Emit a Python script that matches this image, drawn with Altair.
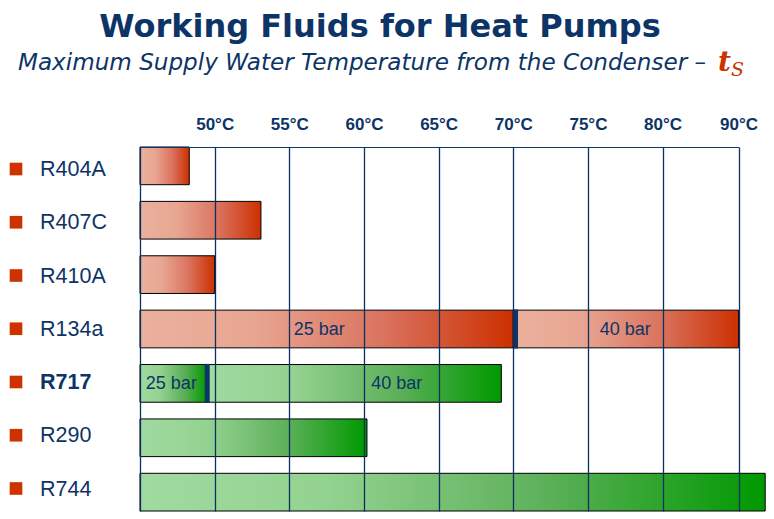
import altair as alt
import pandas as pd

# ---- data ----
fluids = ["R404A", "R407C", "R410A", "R134a", "R717", "R290", "R744"]
bold_fluid = "R717"

seg_fluid = ["R404A", "R407C", "R410A", "R134a", "R134a", "R717", "R717", "R290", "R744"]
seg_start = [45, 45, 45, 45, 70, 45, 49.5, 45, 45]
seg_end = [48.3, 53.1, 50, 70, 90, 49.5, 69.2, 60.2, 93.5]
seg_family = ["red", "red", "red", "red", "red", "green", "green", "green", "green"]

marker_fluid = ["R134a", "R717"]
marker_temp = [70.15, 49.5]

plabel_fluid = ["R134a", "R134a", "R717", "R717"]
plabel_temp = [57.0, 77.5, 47.1, 62.2]
plabel_text = ["25 bar", "40 bar", "25 bar", "40 bar"]

tick_values = [50, 55, 60, 65, 70, 75, 80, 90]

title_text = "Working Fluids for Heat Pumps"
subtitle_text = "Maximum Supply Water Temperature from the Condenser \u2013"
sym_main = "t"
sym_sub = "S"

# ---- styling ----
NAVY = "#0d3466"
RED = "#cc3300"

red_grad = alt.LinearGradient(
    gradient="linear", x1=0, y1=0, x2=1, y2=0,
    stops=[alt.GradientStop(offset=0, color="#ebb19d"),
           alt.GradientStop(offset=0.3, color="#e8a692"),
           alt.GradientStop(offset=0.65, color="#da735f"),
           alt.GradientStop(offset=1, color="#cc3000")])
green_grad = alt.LinearGradient(
    gradient="linear", x1=0, y1=0, x2=1, y2=0,
    stops=[alt.GradientStop(offset=0, color="#a0daa0"),
           alt.GradientStop(offset=0.3, color="#93d290"),
           alt.GradientStop(offset=0.65, color="#5db05a"),
           alt.GradientStop(offset=1, color="#009900")])

segs = pd.DataFrame({"fluid": seg_fluid, "start": seg_start, "end": seg_end, "family": seg_family})
markers = pd.DataFrame({"fluid": marker_fluid, "temp": marker_temp})
plabels = pd.DataFrame({"fluid": plabel_fluid, "temp": plabel_temp, "label": plabel_text})
labels = pd.DataFrame({"fluid": fluids})

xscale = alt.Scale(domain=[45, 80, 90], range=[0, 522.6, 598.6], zero=False, nice=False)
xaxis = alt.Axis(orient="top", values=tick_values, labelExpr="datum.value + '°C'",
                 title=None, ticks=False, tickSize=0, labelPadding=14,
                 labelFont="Liberation Sans", labelFontWeight="bold", labelFontSize=17,
                 labelColor=NAVY, domain=True, domainColor=NAVY, domainWidth=1.2,
                 grid=True, gridColor="#0a2f60", gridOpacity=1, gridWidth=1.3,
                 labelFlush=False, labelOverlap=False, zindex=1)
yband = alt.Scale(domain=fluids, paddingInner=0.307, paddingOuter=0)
yaxis = alt.Axis(title=None, labels=False, ticks=False, grid=False, domain=True,
                 domainColor="#0a2f60", domainWidth=1.3, zindex=1)

Y = alt.Y("fluid:N", scale=yband, axis=yaxis, sort=fluids)

base = alt.Chart(segs).encode(
    x=alt.X("start:Q", scale=xscale, axis=xaxis),
    x2="end:Q",
    y=Y,
)
red_bars = base.transform_filter(alt.datum.family == "red").mark_bar(
    fill=red_grad, stroke="black", strokeWidth=1, opacity=1)
green_bars = base.transform_filter(alt.datum.family == "green").mark_bar(
    fill=green_grad, stroke="black", strokeWidth=1, opacity=1)

marks_tick = alt.Chart(markers).mark_tick(thickness=5, size=39, color=NAVY, opacity=1).encode(
    x=alt.X("temp:Q", scale=xscale, axis=xaxis), y=Y)

ptext = alt.Chart(plabels).mark_text(font="Liberation Sans", fontSize=18, color=NAVY,
                                     baseline="middle", align="center", dy=1).encode(
    x=alt.X("temp:Q", scale=xscale, axis=xaxis), y=Y, text="label:N")

bars_layer = alt.layer(red_bars, green_bars, marks_tick, ptext)

ypoint = alt.Scale(type="point", domain=fluids, range=[23, 342.5], padding=0)
YL = alt.Y("fluid:N", scale=ypoint, axis=None, sort=fluids)

squares = alt.Chart(labels).mark_square(size=160, color=RED, opacity=1, filled=True, yOffset=-1).encode(
    x=alt.value(-124), y=YL)
lab_norm = alt.Chart(labels).transform_filter(alt.datum.fluid != bold_fluid).mark_text(
    font="Liberation Sans", fontSize=21.5, color=NAVY, align="left", baseline="middle").encode(
    x=alt.value(-100), y=YL, text="fluid:N")
lab_bold = alt.Chart(labels).transform_filter(alt.datum.fluid == bold_fluid).mark_text(
    font="Liberation Sans", fontSize=21.5, fontWeight="bold", color=NAVY, align="left",
    baseline="middle").encode(x=alt.value(-100), y=YL, text="fluid:N")
labels_layer = alt.layer(squares, lab_norm, lab_bold)

title_df = pd.DataFrame({"t": [title_text]})
sub_df = pd.DataFrame({"t": [subtitle_text]})
sym_df = pd.DataFrame({"t": [sym_main]})
symsub_df = pd.DataFrame({"t": [sym_sub]})

title_mark = alt.Chart(title_df).mark_text(
    font="DejaVu Sans", fontWeight="bold", fontSize=32, color=NAVY,
    align="center", baseline="alphabetic").encode(
    text="t:N", x=alt.value(240), y=alt.value(-110))
sub_mark = alt.Chart(sub_df).mark_text(
    font="DejaVu Sans", fontStyle="italic", fontSize=23.1, color=NAVY,
    align="left", baseline="alphabetic").encode(
    text="t:N", x=alt.value(-122), y=alt.value(-77))
sym_mark = alt.Chart(sym_df).mark_text(
    font="DejaVu Serif", fontStyle="italic", fontWeight="bold", fontSize=28, color=RED,
    align="left", baseline="alphabetic").encode(
    text="t:N", x=alt.value(578), y=alt.value(-76))
symsub_mark = alt.Chart(symsub_df).mark_text(
    font="DejaVu Serif", fontStyle="italic", fontSize=19, color=RED,
    align="left", baseline="alphabetic").encode(
    text="t:N", x=alt.value(591), y=alt.value(-71))

chart = alt.layer(
    bars_layer, labels_layer, title_mark, sub_mark, sym_mark, symsub_mark
).resolve_scale(y="independent").properties(
    width=599, height=364,
    padding={"left": 132, "top": 139, "right": 27, "bottom": 1},
    autosize=alt.AutoSizeParams(type="none"),
).configure_view(stroke=None)

chart.save("out.html", embed_options={"renderer": "svg", "actions": False})
